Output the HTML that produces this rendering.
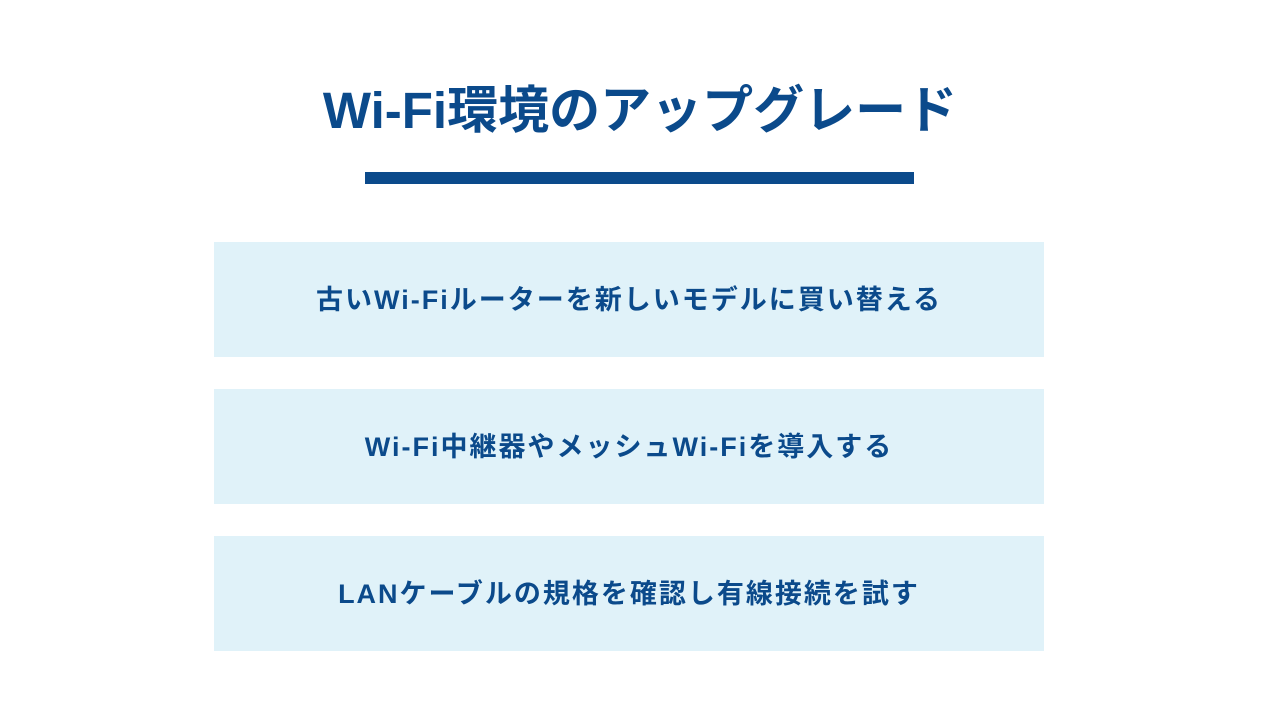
<!DOCTYPE html>
<html><head><meta charset="utf-8"><style>
body{margin:0;width:1280px;height:720px;background:#fff;position:relative;font-family:"Liberation Sans","Noto Sans CJK JP",sans-serif;color:#0b4a8b;overflow:hidden}
.t{position:absolute;left:0;width:1280px;top:76px;text-align:center;font-size:51px;font-weight:bold;line-height:70px}
.bar{position:absolute;left:365px;top:172px;width:549px;height:12px;background:#0b4a8b}
.b{position:absolute;left:214px;width:830px;height:115px;background:#e0f2f9;display:flex;align-items:center;justify-content:center;font-size:27px;font-weight:bold;letter-spacing:2px;padding-bottom:4px;box-sizing:border-box}
</style></head><body>
<div class="t">Wi-Fi環境のアップグレード</div>
<div class="bar"></div>
<div class="b" style="top:242px">古いWi-Fiルーターを新しいモデルに買い替える</div>
<div class="b" style="top:389px">Wi-Fi中継器やメッシュWi-Fiを導入する</div>
<div class="b" style="top:536px">LANケーブルの規格を確認し有線接続を試す</div>
</body></html>
